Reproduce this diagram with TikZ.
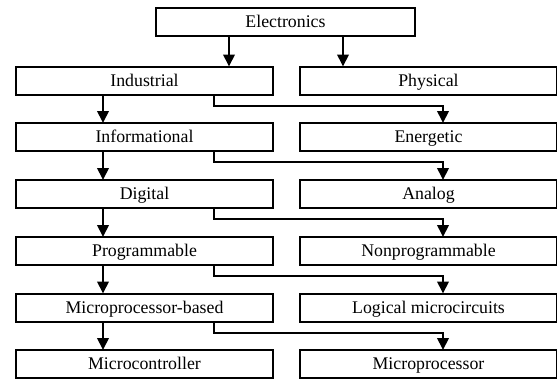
\documentclass[tikz,border=0pt]{standalone}
\usepackage{fontspec}
\setmainfont{Liberation Serif}
\usetikzlibrary{arrows.meta,calc}
\begin{document}
\begin{tikzpicture}[x=1pt,y=-1pt,
  box/.style={draw=black,line width=2pt,minimum height=28pt,inner sep=0pt,outer sep=0pt,
    text height=13pt,text depth=1.2pt,
    font=\fontsize{17.8}{18}\selectfont,text=black},
  lbox/.style={box,minimum width=257pt},
  arr/.style={line width=2pt,draw=black,-{Triangle[length=12pt,width=11.5pt]}}]
\useasboundingbox (0,0) rectangle (557,381);
\node[box,minimum width=259pt] (elec) at (285.5,22) {Electronics};
\node[lbox] (ind) at (144.5,80.5) {Industrial};
\node[lbox] (inf) at (144.5,137) {Informational};
\node[lbox] (dig) at (144.5,194) {Digital};
\node[lbox] (prg) at (144.5,251) {Programmable};
\node[lbox] (mpb) at (144.5,307.5) {Microprocessor-based};
\node[lbox] (mcu) at (144.5,364) {Microcontroller};
\node[lbox] (phy) at (428.5,80.5) {Physical};
\node[lbox] (ene) at (428.5,137) {Energetic};
\node[lbox] (ana) at (428.5,194) {Analog};
\node[lbox] (npr) at (428.5,251) {Nonprogrammable};
\node[lbox] (log) at (428.5,307.5) {Logical microcircuits};
\node[lbox] (mpu) at (428.5,364) {Microprocessor};
% from Electronics
\draw[arr] ([xshift=-56.5pt]elec.south) -- ([xshift=-56.5pt]elec.south |- ind.north);
\draw[arr] ([xshift=57.5pt]elec.south) -- ([xshift=57.5pt]elec.south |- phy.north);
% left chain
\foreach \a/\b in {ind/inf,inf/dig,dig/prg,prg/mpb,mpb/mcu}{
  \draw[arr] ([xshift=-41.5pt]\a.south) -- ([xshift=-41.5pt]\a.south |- \b.north);
}
% elbows
\foreach \a/\b in {ind/ene,inf/ana,dig/npr,prg/log,mpb/mpu}{
  \draw[arr] ([xshift=69.5pt]\a.south) -- ++(0,11) -| ([xshift=14.5pt]\b.north);
}
\end{tikzpicture}
\end{document}
